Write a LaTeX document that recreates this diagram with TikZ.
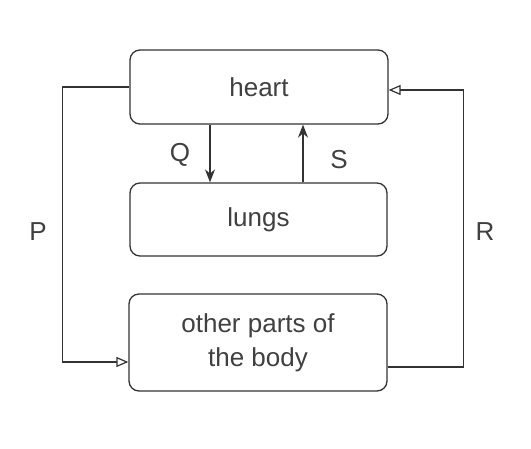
\documentclass[tikz,border=0pt]{standalone}
\usepackage{fontspec}
\setmainfont{Liberation Sans}
\usetikzlibrary{arrows.meta}
\begin{document}
\begin{tikzpicture}[x=1pt,y=-1pt,
  box/.style={draw=black!80, line width=1.3pt, rounded corners=10pt, inner sep=0pt, align=center, text=black!75, font=\fontsize{26}{34}\selectfont},
  link/.style={draw=black!80, line width=1.2pt},
  opentip/.style={link, -{Triangle[open, length=12pt, width=10pt]}},
  filltip/.style={link, -{Stealth[length=13pt, width=10pt]}},
  lab/.style={text=black!75, font=\fontsize{26}{30}\selectfont}]
\fill[white] (0,0) rectangle (531,448);
\useasboundingbox (0,0) rectangle (531,448);
\node[box, minimum width=258pt, minimum height=74pt] (heart) at (259,87) {heart};
\node[box, minimum width=257pt, minimum height=73pt] (lungs) at (258.5,219.5) {lungs};
\node[box, minimum width=258pt, minimum height=97pt] (other) at (258,342.5) {other parts of\\the body};
\draw[opentip] (heart.west) -- ++(-67pt,0) |- ([yshift=-19.5pt]other.west);
\draw[opentip] ([yshift=-24.5pt]other.east) -- ++(76pt,0) |- ([yshift=-3pt]heart.east);
\draw[filltip] ([xshift=-49pt]heart.south) -- ([xshift=-49pt]heart.south |- lungs.north);
\draw[filltip] ([xshift=44pt]heart.south |- lungs.north) -- ([xshift=44pt]heart.south);
\node[lab] (Q) at (180,155) {Q};
\node[lab] (S) at (339,160) {S};
\node[lab] (P) at (38,232) {P};
\node[lab] (R) at (485,232) {R};
\end{tikzpicture}
\end{document}
